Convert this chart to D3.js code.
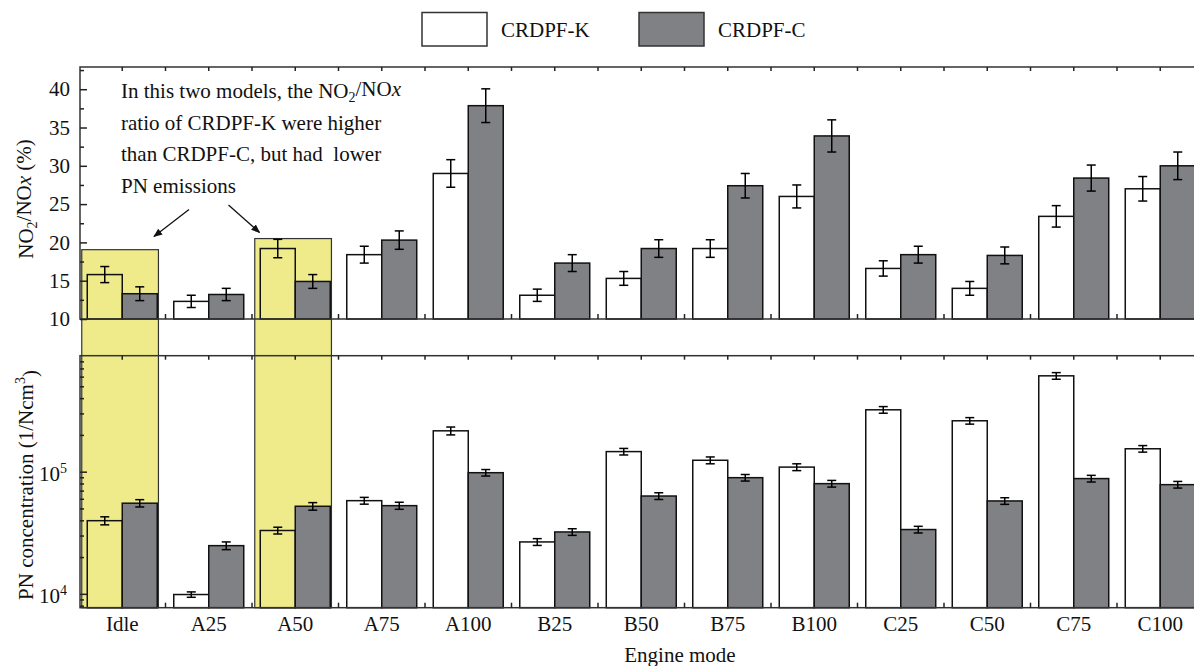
<!DOCTYPE html>
<html><head><meta charset="utf-8">
<script src="https://cdn.jsdelivr.net/npm/d3@7"></script>
<style>body{margin:0;background:#fff}svg text{font-family:"Liberation Serif","Times New Roman","DejaVu Serif",serif}</style>
</head><body><svg id="c" width="1194" height="666"></svg>
<script>
const categories = ["Idle","A25","A50","A75","A100","B25","B50","B75","B100","C25","C50","C75","C100"];
const seriesNames = ["CRDPF-K","CRDPF-C"];
const no2K    = [15.8,12.3,19.2,18.4,29.0,13.1,15.3,19.2,26.0,16.6,14.0,23.4,27.0];
const no2KErr = [1.05,0.8,1.2,1.1,1.8,0.8,0.9,1.15,1.5,1.0,0.9,1.4,1.6];
const no2C    = [13.3,13.2,14.9,20.3,37.85,17.3,19.2,27.4,33.9,18.4,18.3,28.4,30.0];
const no2CErr = [0.9,0.8,0.9,1.2,2.2,1.1,1.15,1.6,2.1,1.1,1.1,1.7,1.8];
const pnK    = [39700,9870,33000,57900,216000,26600,146000,124000,109000,321000,261000,609000,154000];
const pnKErr = [3000,500,2100,3700,16000,1700,9000,8000,7000,20000,16000,38000,9500];
const pnC    = [55200,24800,52100,52700,98100,32100,63200,89300,79800,33600,57600,87800,78300];
const pnCErr = [3800,1800,3700,3500,6000,2000,4000,5500,5000,2100,3600,5500,4900];
const no2Ticks = [10,15,20,25,30,35,40];
const no2Minor = [12.5,17.5,22.5,27.5,32.5,37.5,42.5];
const pnTicks = [1e4,1e5];
const pnMinor = [8000,9000,2e4,3e4,4e4,5e4,6e4,7e4,8e4,9e4,2e5,3e5,4e5,5e5,6e5,7e5,8e5];
const highlightCats = ["Idle","A50"];
const highlightTop = [19.05,20.5];
const annotationLines = ["In this two models, the NO|2|/NO|x","ratio of CRDPF-K were higher","than CRDPF-C, but had  lower","PN emissions"];

const FF = "Liberation Serif, Times New Roman, DejaVu Serif, serif";
const svg = d3.select("#c").attr("font-family", FF);
const L = 80, X0 = 79, R = 1203.5;
const T1 = 67, B1 = 319, T2 = 355.7, B2 = 607.7;
const FS = 21;
const gray = "#808185";

const x = d3.scaleBand().domain(categories).range([X0, R]).padding(0);
const xs = d3.scaleBand().domain(["K","C"]).range([0, x.bandwidth()]).paddingInner(0).paddingOuter(0.236);
const y1 = d3.scaleLinear().domain([10, 42.9]).range([B1, T1]);
const y2 = d3.scaleLog().domain([7700, 890000]).range([B2, T2]);

highlightCats.forEach((c, i) => {
  const x0 = x(c) + xs("K") - 5.5, x1 = x(c) + xs("C") + xs.bandwidth() + 1.2;
  svg.append("rect").attr("x", x0).attr("y", y1(highlightTop[i]))
    .attr("width", x1 - x0).attr("height", B2 - y1(highlightTop[i]))
    .attr("fill", "#efeb8b").attr("stroke", "#333").attr("stroke-width", 1.2);
});

function panel(yS, kv, ke, cv, ce, base, top, bottom) {
  const g = svg.append("g");
  const bars = [];
  categories.forEach((c, i) => {
    bars.push({c, s: "K", v: kv[i], e: ke[i]});
    bars.push({c, s: "C", v: cv[i], e: ce[i]});
  });
  g.selectAll("rect.bar").data(bars).join("rect").attr("class", "bar")
    .attr("x", d => x(d.c) + xs(d.s)).attr("width", xs.bandwidth())
    .attr("y", d => yS(d.v)).attr("height", d => yS(base) - yS(d.v))
    .attr("fill", d => d.s === "K" ? "none" : gray)
    .attr("stroke", "#111").attr("stroke-width", 1.5);
  const cx = d => x(d.c) + xs(d.s) + xs.bandwidth()/2;
  const eg = g.selectAll("g.err").data(bars).join("g").attr("class", "err")
    .attr("stroke", "#000").attr("stroke-width", 1.5);
  eg.append("line").attr("x1", cx).attr("x2", cx)
    .attr("y1", d => yS(d.v + d.e)).attr("y2", d => yS(d.v - d.e));
  [1, -1].forEach(sg => {
    eg.append("line").attr("x1", d => cx(d) - 4.5).attr("x2", d => cx(d) + 4.5)
      .attr("y1", d => yS(d.v + sg*d.e)).attr("y2", d => yS(d.v + sg*d.e));
  });
  g.append("rect").attr("x", L).attr("y", top).attr("width", R - L).attr("height", bottom - top)
    .attr("fill", "none").attr("stroke", "#333").attr("stroke-width", 1.5);
  const tk = g.append("g").attr("stroke", "#222").attr("stroke-width", 1.5);
  categories.forEach((c, i) => {
    [x(c), x(c) + x.bandwidth()/2].forEach((xx, j) => {
      if (i === 0 && j === 0) return;
      tk.append("line").attr("x1", xx).attr("x2", xx).attr("y1", top).attr("y2", top + 4);
    });
    if (i > 0) tk.append("line").attr("x1", x(c)).attr("x2", x(c)).attr("y1", bottom).attr("y2", bottom - 5);
  });
}

panel(y1, no2K, no2KErr, no2C, no2CErr, 10, T1, B1);
panel(y2, pnK, pnKErr, pnC, pnCErr, 7700, T2, B2);

function styleAxis(a) {
  a.attr("font-family", FF);
  a.select(".domain").remove();
  a.selectAll("line").attr("stroke", "#222").attr("stroke-width", 1.5);
  a.selectAll("text").attr("font-size", FS).attr("font-family", FF).attr("fill", "#111");
}

const ax1 = svg.append("g").attr("transform", `translate(${L},0)`)
  .call(d3.axisLeft(y1).tickValues(no2Ticks).tickSize(-7).tickPadding(10).tickFormat(d3.format("d")));
styleAxis(ax1);
const ax1m = svg.append("g").attr("transform", `translate(${L},0)`)
  .call(d3.axisLeft(y1).tickValues(no2Minor).tickSize(-4).tickFormat(""));
styleAxis(ax1m);

const ax2 = svg.append("g").attr("transform", `translate(${L},0)`)
  .call(d3.axisLeft(y2).tickValues(pnTicks).tickSize(-7).tickFormat(""));
styleAxis(ax2);
ax2.selectAll(".tick").each(function(d) {
  const t = d3.select(this).append("text").attr("x", -13).attr("dy", "0.42em")
    .attr("text-anchor", "end").attr("font-size", FS).attr("font-family", FF).attr("fill", "#111");
  t.append("tspan").text("10");
  t.append("tspan").attr("font-size", 14).attr("dy", "-0.55em").text(Math.round(Math.log10(d)));
});
const ax2m = svg.append("g").attr("transform", `translate(${L},0)`)
  .call(d3.axisLeft(y2).tickValues(pnMinor).tickSize(-4).tickFormat(""));
styleAxis(ax2m);

const axx = svg.append("g").attr("transform", `translate(0,${B2})`)
  .call(d3.axisBottom(x).tickSize(0).tickPadding(8));
styleAxis(axx);

svg.append("text").attr("x", 680).attr("y", 662).attr("text-anchor", "middle")
  .attr("font-size", FS).attr("font-family", FF).attr("fill", "#111").text("Engine mode");

const yl1 = svg.append("text").attr("transform", "translate(33,199) rotate(-90)")
  .attr("text-anchor", "middle").attr("font-size", FS).attr("font-family", FF).attr("fill", "#111");
yl1.append("tspan").text("NO");
yl1.append("tspan").attr("font-size", 14).attr("dy", "0.3em").text("2");
yl1.append("tspan").attr("dy", "-0.3em").text("/NO");
yl1.append("tspan").attr("font-style", "italic").text("x");
yl1.append("tspan").text(" (%)");

const yl2 = svg.append("text").attr("transform", "translate(33,485) rotate(-90)")
  .attr("text-anchor", "middle").attr("font-size", FS).attr("font-family", FF).attr("fill", "#111");
yl2.append("tspan").text("PN concentration (1/Ncm");
yl2.append("tspan").attr("font-size", 14).attr("dy", "-0.55em").text("3");
yl2.append("tspan").attr("dy", "0.55em").text(")");

seriesNames.forEach((n, i) => {
  const lx = i === 0 ? 422 : 639;
  svg.append("rect").attr("x", lx).attr("y", 12.5).attr("width", 65).attr("height", 33.5)
    .attr("fill", i === 0 ? "#fff" : gray).attr("stroke", "#333").attr("stroke-width", 1.5);
  svg.append("text").attr("x", lx + 79).attr("y", 37).attr("font-size", FS).attr("font-family", FF)
    .attr("fill", "#111").text(n);
});

annotationLines.forEach((ln, i) => {
  const t = svg.append("text").attr("x", 121).attr("y", 98 + i*31.7).attr("font-size", FS)
    .attr("font-family", FF).attr("fill", "#111").attr("xml:space", "preserve").style("white-space", "pre");
  const parts = ln.split("|");
  if (parts.length === 1) { t.text(ln); return; }
  t.append("tspan").text(parts[0]);
  t.append("tspan").attr("font-size", 14).attr("dy", "0.3em").text(parts[1]);
  t.append("tspan").attr("dy", "-0.3em").text(parts[2]);
  t.append("tspan").attr("font-style", "italic").text(parts[3]);
});
const defs = svg.append("defs");
defs.append("marker").attr("id", "ah").attr("viewBox", "0 0 10 10").attr("refX", 9).attr("refY", 5)
  .attr("markerWidth", 9).attr("markerHeight", 9).attr("markerUnits", "userSpaceOnUse").attr("orient", "auto")
  .append("path").attr("d", "M0,1 L10,5 L0,9 Z").attr("fill", "#111");
[[189, 209.5, 154, 236.5], [228.5, 205, 259.5, 232.5]].forEach(a => {
  svg.append("line").attr("x1", a[0]).attr("y1", a[1]).attr("x2", a[2]).attr("y2", a[3])
    .attr("stroke", "#111").attr("stroke-width", 1.3).attr("marker-end", "url(#ah)");
});
</script></body></html>
